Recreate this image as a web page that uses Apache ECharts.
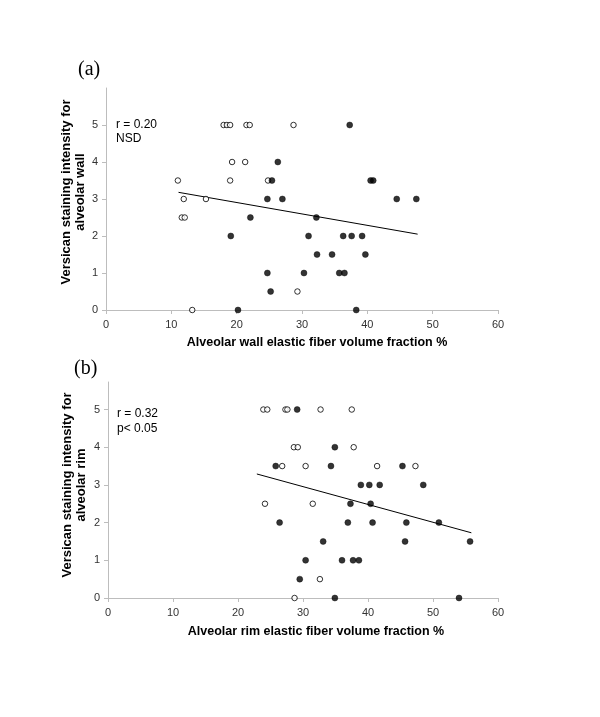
<!DOCTYPE html>
<html>
<head>
<meta charset="utf-8">
<script src="https://cdn.jsdelivr.net/npm/echarts@6/dist/echarts.min.js"></script>
<style>
html,body{margin:0;padding:0;background:#fff;}
#chart{width:600px;height:717px;}
</style>
</head>
<body>
<div id="chart"></div>
<script>
// ---- data (x = elastic fiber volume fraction %, y = versican staining intensity) ----
const xTicks = [0, 10, 20, 30, 40, 50, 60];
const yTicks = [0, 1, 2, 3, 4, 5];

const openA = [
  [18.0,5],[18.5,5],[19.0,5],[21.5,5],[22.0,5],[28.7,5],
  [19.3,4],[21.3,4],
  [11.0,3.5],[19.0,3.5],[24.8,3.5],
  [11.9,3],[15.3,3],
  [11.6,2.5],[12.05,2.5],
  [29.3,0.5],
  [13.2,0]
];
const filledA = [
  [37.3,5],
  [26.3,4],
  [25.4,3.5],[40.5,3.5],[40.9,3.5],
  [24.7,3],[27.0,3],[44.5,3],[47.5,3],
  [22.1,2.5],[32.2,2.5],
  [19.1,2],[31.0,2],[36.3,2],[37.6,2],[39.2,2],
  [32.3,1.5],[34.6,1.5],[39.7,1.5],
  [24.7,1],[30.3,1],[35.7,1],[36.5,1],
  [25.2,0.5],
  [20.2,0],[38.3,0]
];
const trendA = [[11.1,3.18],[47.7,2.05]];

const openB = [
  [23.9,5],[24.5,5],[27.3,5],[27.6,5],[32.7,5],[37.5,5],
  [28.6,4],[29.2,4],[37.8,4],
  [26.8,3.5],[30.4,3.5],[41.4,3.5],[47.3,3.5],
  [24.15,2.5],[31.5,2.5],
  [32.6,0.5],
  [28.7,0]
];
const filledB = [
  [29.1,5],
  [34.9,4],
  [25.8,3.5],[34.3,3.5],[45.3,3.5],
  [38.9,3],[40.2,3],[41.8,3],[48.5,3],
  [37.3,2.5],[40.4,2.5],
  [26.4,2],[36.9,2],[40.7,2],[45.9,2],[50.9,2],
  [33.1,1.5],[45.7,1.5],[55.7,1.5],
  [30.4,1],[36.0,1],[37.7,1],[38.6,1],
  [29.5,0.5],
  [34.9,0],[54.0,0]
];
const trendB = [[22.9,3.29],[55.9,1.73]];

const texts = {
  panelA: '(a)', panelB: '(b)',
  statA: 'r = 0.20\nNSD', statB: 'r = 0.32\np< 0.05',
  yNameA: 'Versican staining intensity for\nalveolar wall',
  yNameB: 'Versican staining intensity for\nalveolar rim',
  xNameA: 'Alveolar wall elastic fiber volume fraction %',
  xNameB: 'Alveolar rim elastic fiber volume fraction %'
};

// ---- chart ----
const FONT = "'Liberation Sans', Arial, sans-serif";
const SERIF = "'Liberation Serif', 'Times New Roman', serif";
const AX = '#bdbdbd';
const LBL = '#333';

function xAxisDef(gi){
  return {
    type:'value', gridIndex:gi, min:0, max:60, interval:10,
    axisLine:{show:true, onZero:false, lineStyle:{color:AX, width:1}},
    axisTick:{show:true, inside:false, length:4, lineStyle:{color:AX}},
    splitLine:{show:false},
    axisLabel:{color:LBL, fontFamily:FONT, fontSize:11, margin:9}
  };
}
function yAxisDef(gi, max){
  return {
    type:'value', gridIndex:gi, min:0, max:max, interval:1,
    axisLine:{show:true, onZero:false, lineStyle:{color:AX, width:1}},
    axisTick:{show:true, inside:false, length:4, lineStyle:{color:AX}, customValues: yTicks},
    splitLine:{show:false},
    axisLabel:{color:LBL, fontFamily:FONT, fontSize:11, margin:8,
      customValues: yTicks,
      formatter: v => (v <= 5 ? String(v) : '')}
  };
}
function openSeries(data, i){
  return {type:'scatter', xAxisIndex:i, yAxisIndex:i, data:data, symbol:'circle', symbolSize:5.5,
    itemStyle:{color:'#fff', borderColor:'#000', borderWidth:1}, z:3, silent:true};
}
function filledSeries(data, i){
  return {type:'scatter', xAxisIndex:i, yAxisIndex:i, data:data, symbol:'circle', symbolSize:6,
    itemStyle:{color:'#000', borderColor:'#000', borderWidth:0.5}, z:4, silent:true};
}
function trendSeries(data, i){
  return {type:'line', xAxisIndex:i, yAxisIndex:i, data:data, symbol:'none',
    lineStyle:{color:'#000', width:1}, z:2, silent:true, animation:false};
}

const chart = echarts.init(document.getElementById('chart'), null, {renderer:'canvas'});
chart.setOption({
  animation:false,
  backgroundColor:'#fff',
  grid:[
    {left:106, width:392, top:88, height:222},
    {left:108, width:390, top:382, height:216}
  ],
  xAxis:[xAxisDef(0), xAxisDef(1)],
  yAxis:[yAxisDef(0, 6), yAxisDef(1, 5.73)],
  series:[
    trendSeries(trendA,0), openSeries(openA,0), filledSeries(filledA,0),
    trendSeries(trendB,1), openSeries(openB,1), filledSeries(filledB,1)
  ],
  graphic:[
    {type:'text', left:78, top:60, style:{text:texts.panelA, font:'20px '+SERIF, fill:'#000'}},
    {type:'text', left:74, top:359, style:{text:texts.panelB, font:'20px '+SERIF, fill:'#000'}},
    {type:'text', x:116, y:118, style:{text:texts.statA, font:'12px '+FONT, fill:'#000', lineHeight:14, textVerticalAlign:'top'}},
    {type:'text', x:117, y:406, style:{text:texts.statB, font:'12px '+FONT, fill:'#000', lineHeight:15, textVerticalAlign:'top'}},
    {type:'text', x:73, y:192, rotation:Math.PI/2,
      style:{text:texts.yNameA, font:'bold 13px '+FONT, fill:'#000', textAlign:'center', textVerticalAlign:'middle', lineHeight:14}},
    {type:'text', x:74, y:485, rotation:Math.PI/2,
      style:{text:texts.yNameB, font:'bold 13px '+FONT, fill:'#000', textAlign:'center', textVerticalAlign:'middle', lineHeight:14}},
    {type:'text', x:317, y:343,
      style:{text:texts.xNameA, font:'bold 12.5px '+FONT, fill:'#000', textAlign:'center', textVerticalAlign:'middle'}},
    {type:'text', x:316, y:632,
      style:{text:texts.xNameB, font:'bold 12.5px '+FONT, fill:'#000', textAlign:'center', textVerticalAlign:'middle'}}
  ]
});
</script>
</body>
</html>
